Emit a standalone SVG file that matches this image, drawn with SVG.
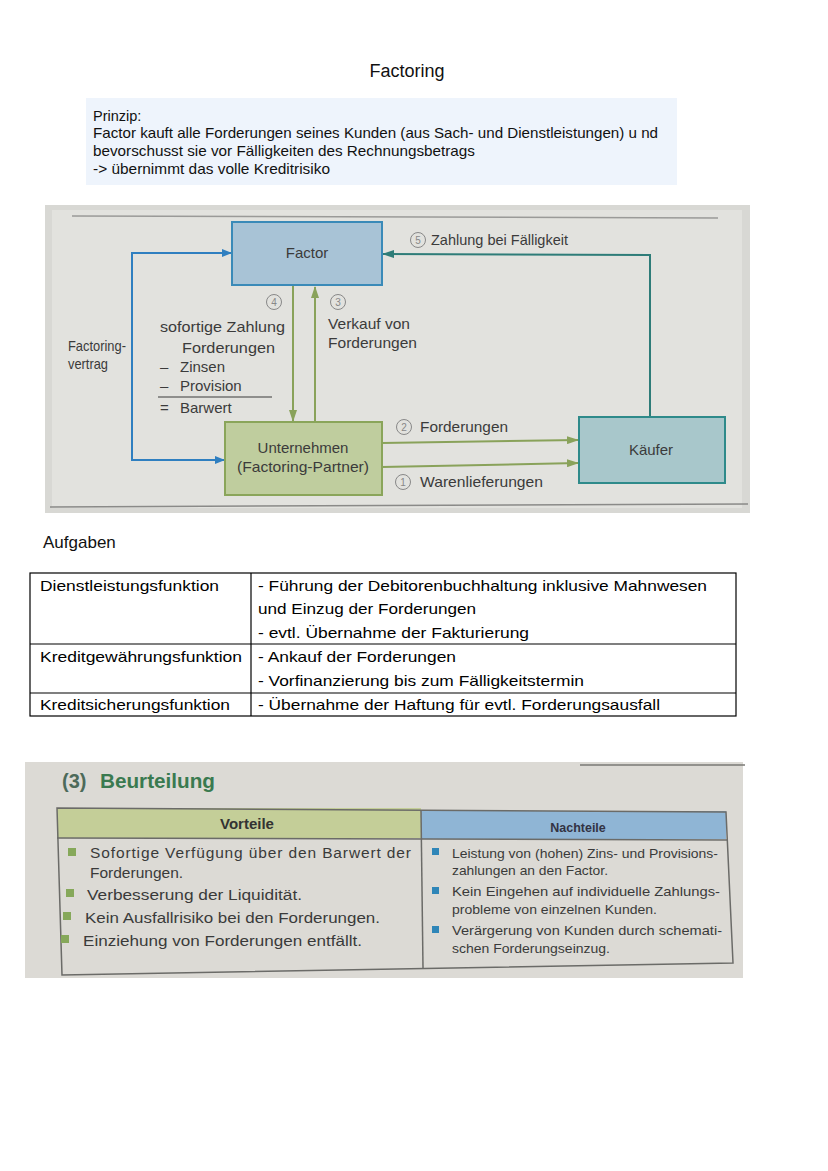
<svg xmlns="http://www.w3.org/2000/svg" width="828" height="1171" viewBox="0 0 828 1171">
<style>
.t{font-family:"Liberation Sans",Arial,sans-serif;fill:#111}
.d{font-family:"Liberation Sans",Arial,sans-serif;fill:#3b3b3b;font-size:15px}
.tb{font-family:"Liberation Sans",Arial,sans-serif;fill:#000;font-size:15px}
.b{font-family:"Liberation Sans",Arial,sans-serif;fill:#3a3a3a}
.circ{fill:none;stroke:#888;stroke-width:1}
.cn{font-family:"Liberation Sans",Arial,sans-serif;fill:#888;font-size:10px;text-anchor:middle}
</style>
<defs>
<marker id="aBlue" markerWidth="10" markerHeight="8" refX="9" refY="4" orient="auto" markerUnits="userSpaceOnUse"><path d="M0,0 L10,4 L0,8 Z" fill="#2f7fc0"/></marker>
<marker id="aGreen" markerWidth="12" markerHeight="8" refX="11" refY="4" orient="auto" markerUnits="userSpaceOnUse"><path d="M0,0 L12,4 L0,8 Z" fill="#89a25a"/></marker>
<marker id="aTeal" markerWidth="12" markerHeight="8" refX="11" refY="4" orient="auto" markerUnits="userSpaceOnUse"><path d="M0,0 L12,4 L0,8 Z" fill="#2e7c78"/></marker>
</defs>
<rect width="828" height="1171" fill="#ffffff"/>
<text class="t" x="407" y="77" font-size="18" text-anchor="middle">Factoring</text>
<rect x="86" y="98" width="591" height="87" fill="#eef4fc"/>
<g class="t" font-size="14.5">
<text x="93" y="121">Prinzip:</text>
<text x="93" y="138" textLength="565" lengthAdjust="spacingAndGlyphs">Factor kauft alle Forderungen seines Kunden (aus Sach- und Dienstleistungen) u nd</text>
<text x="93" y="156" textLength="382" lengthAdjust="spacingAndGlyphs">bevorschusst sie vor Fälligkeiten des Rechnungsbetrags</text>
<text x="93" y="174" textLength="237" lengthAdjust="spacingAndGlyphs">-&gt; übernimmt das volle Kreditrisiko</text>
</g>
<!-- diagram photo -->
<rect x="45" y="205" width="705" height="308" fill="#d8d8d4"/>
<rect x="52" y="210" width="690" height="298" fill="#e2e2de"/>
<line x1="72" y1="216" x2="718" y2="218" stroke="#9a9a98" stroke-width="1.5"/>
<line x1="50" y1="507" x2="748" y2="504" stroke="#8a8a88" stroke-width="1.5"/>
<g id="connectors" fill="none" stroke-width="2">
<path d="M225,460 L132,460 L132,253 L231,253" stroke="#2f7fc0" marker-end="url(#aBlue)"/>
<path d="M132,460 L224,460" stroke="#2f7fc0" marker-end="url(#aBlue)"/>
<path d="M293,286 L293,421" stroke="#89a25a" marker-end="url(#aGreen)"/>
<path d="M315,422 L315,287" stroke="#89a25a" marker-end="url(#aGreen)"/>
<path d="M650,417 L650,255 L383,254" stroke="#2e7c78" marker-end="url(#aTeal)"/>
<path d="M382,443 L578,440" stroke="#89a25a" marker-end="url(#aGreen)"/>
<path d="M382,467 L578,463" stroke="#89a25a" marker-end="url(#aGreen)"/>
</g>
<g id="factor">
<rect x="232" y="222" width="150" height="63" fill="#a8c3d6" stroke="#3a8ab8" stroke-width="2"/>
<text class="d" x="307" y="258" text-anchor="middle">Factor</text>
</g>
<g id="unternehmen">
<rect x="225" y="422" width="157" height="73" fill="#bfcd9e" stroke="#8aa55a" stroke-width="2"/>
<text class="d" x="303" y="453" text-anchor="middle" font-size="16">Unternehmen</text>
<text class="d" x="303" y="472" text-anchor="middle" font-size="16" textLength="132" lengthAdjust="spacingAndGlyphs">(Factoring-Partner)</text>
</g>
<g id="kaeufer">
<rect x="579" y="417" width="146" height="66" fill="#a8c7cb" stroke="#2e8a8a" stroke-width="2"/>
<text class="d" x="651" y="455" text-anchor="middle">Käufer</text>
</g>
<g id="labels">
<text class="d" x="68" y="351" font-size="12.5" textLength="58" lengthAdjust="spacingAndGlyphs">Factoring-</text>
<text class="d" x="68" y="369" font-size="12.5" textLength="40" lengthAdjust="spacingAndGlyphs">vertrag</text>
<circle class="circ" cx="274" cy="302" r="7.5"/><text class="cn" x="274" y="306">4</text>
<circle class="circ" cx="338" cy="302" r="7.5"/><text class="cn" x="338" y="306">3</text>
<text class="d" x="160" y="332" font-size="16" textLength="125" lengthAdjust="spacingAndGlyphs">sofortige Zahlung</text>
<text class="d" x="182" y="353" font-size="16" textLength="93" lengthAdjust="spacingAndGlyphs">Forderungen</text>
<text class="d" x="160" y="372" font-size="16">–</text>
<text class="d" x="180" y="372" font-size="16">Zinsen</text>
<text class="d" x="160" y="391" font-size="16">–</text>
<text class="d" x="180" y="391" font-size="16">Provision</text>
<line x1="158" y1="397" x2="272" y2="397" stroke="#3b3b3b" stroke-width="1.2"/>
<text class="d" x="160" y="413" font-size="16">=</text>
<text class="d" x="180" y="413" font-size="16">Barwert</text>
<text class="d" x="328" y="329" textLength="82" lengthAdjust="spacingAndGlyphs">Verkauf von</text>
<text class="d" x="328" y="348" textLength="89" lengthAdjust="spacingAndGlyphs">Forderungen</text>
<circle class="circ" cx="418" cy="240" r="7.5"/><text class="cn" x="418" y="244">5</text>
<text class="d" x="431" y="245" textLength="137" lengthAdjust="spacingAndGlyphs">Zahlung bei Fälligkeit</text>
<circle class="circ" cx="404" cy="427" r="7.5"/><text class="cn" x="404" y="431">2</text>
<text class="d" x="420" y="432" textLength="88" lengthAdjust="spacingAndGlyphs">Forderungen</text>
<circle class="circ" cx="403" cy="482" r="7.5"/><text class="cn" x="403" y="486">1</text>
<text class="d" x="420" y="487" textLength="123" lengthAdjust="spacingAndGlyphs">Warenlieferungen</text>
</g>
<text class="t" x="43" y="548" font-size="17">Aufgaben</text>
<!-- table -->
<g fill="none" stroke="#000" stroke-width="1.2">
<rect x="30" y="573" width="706" height="143"/>
<line x1="251" y1="573" x2="251" y2="716"/>
<line x1="30" y1="644" x2="736" y2="644"/>
<line x1="30" y1="693" x2="736" y2="693"/>
</g>
<g class="tb">
<text x="40" y="591" textLength="179" lengthAdjust="spacingAndGlyphs">Dienstleistungsfunktion</text>
<text x="258" y="591" textLength="449" lengthAdjust="spacingAndGlyphs">- Führung der Debitorenbuchhaltung inklusive Mahnwesen</text>
<text x="258" y="614" textLength="218" lengthAdjust="spacingAndGlyphs">und Einzug der Forderungen</text>
<text x="258" y="638" textLength="271" lengthAdjust="spacingAndGlyphs">- evtl. Übernahme der Fakturierung</text>
<text x="40" y="662" textLength="202" lengthAdjust="spacingAndGlyphs">Kreditgewährungsfunktion</text>
<text x="258" y="662" textLength="198" lengthAdjust="spacingAndGlyphs">- Ankauf der Forderungen</text>
<text x="258" y="686" textLength="326" lengthAdjust="spacingAndGlyphs">- Vorfinanzierung bis zum Fälligkeitstermin</text>
<text x="40" y="710" textLength="190" lengthAdjust="spacingAndGlyphs">Kreditsicherungsfunktion</text>
<text x="258" y="710" textLength="402" lengthAdjust="spacingAndGlyphs">- Übernahme der Haftung für evtl. Forderungsausfall</text>
</g>
<!-- Beurteilung photo -->
<rect x="25" y="762" width="718" height="216" fill="#dcdad5"/>
<line x1="580" y1="765" x2="745" y2="765" stroke="#7a7874" stroke-width="1.5"/>
<text x="62" y="788" font-family="Liberation Sans,Arial,sans-serif" font-size="20" font-weight="bold" fill="#4d6a5a">(3)</text>
<text x="100" y="788" font-family="Liberation Sans,Arial,sans-serif" font-size="20" font-weight="bold" fill="#3a7a50" textLength="115" lengthAdjust="spacingAndGlyphs">Beurteilung</text>
<rect x="57" y="808" width="364" height="30" fill="#c4ce98"/>
<rect x="421" y="811" width="305" height="28" fill="#8fb5d5"/>
<g fill="none" stroke="#6b6b68" stroke-width="1.5">
<path d="M57,808 L726,812 L733,963 L62,975 Z"/>
<line x1="57" y1="838" x2="727" y2="840"/>
<line x1="421" y1="810" x2="423" y2="968"/>
</g>
<text x="247" y="829" font-family="Liberation Sans,Arial,sans-serif" font-size="15" font-weight="bold" fill="#333" text-anchor="middle">Vorteile</text>
<text x="578" y="832" font-family="Liberation Sans,Arial,sans-serif" font-size="12.5" font-weight="bold" fill="#334" text-anchor="middle">Nachteile</text>
<g fill="#86a85a">
<rect x="68" y="848" width="8" height="8"/>
<rect x="66" y="889" width="8" height="8"/>
<rect x="63" y="912" width="8" height="8"/>
<rect x="61" y="935" width="8" height="8"/>
</g>
<g class="b" font-size="15.5">
<text x="90" y="858" textLength="321" lengthAdjust="spacing">Sofortige Verfügung über den Barwert der</text>
<text x="90" y="878">Forderungen.</text>
<text x="87" y="900" textLength="215" lengthAdjust="spacingAndGlyphs">Verbesserung der Liquidität.</text>
<text x="85" y="923" textLength="295" lengthAdjust="spacingAndGlyphs">Kein Ausfallrisiko bei den Forderungen.</text>
<text x="83" y="946" textLength="279" lengthAdjust="spacingAndGlyphs">Einziehung von Forderungen entfällt.</text>
</g>
<g fill="#2f86b8">
<rect x="432" y="848" width="7" height="7"/>
<rect x="432" y="887" width="7" height="7"/>
<rect x="432" y="926" width="7" height="7"/>
</g>
<g class="b" font-size="13.5">
<text x="452" y="858" textLength="266" lengthAdjust="spacingAndGlyphs">Leistung von (hohen) Zins- und Provisions-</text>
<text x="452" y="875" textLength="156" lengthAdjust="spacingAndGlyphs">zahlungen an den Factor.</text>
<text x="452" y="896" textLength="268" lengthAdjust="spacingAndGlyphs">Kein Eingehen auf individuelle Zahlungs-</text>
<text x="452" y="914" textLength="205" lengthAdjust="spacingAndGlyphs">probleme von einzelnen Kunden.</text>
<text x="452" y="935" textLength="270" lengthAdjust="spacingAndGlyphs">Verärgerung von Kunden durch schemati-</text>
<text x="452" y="953" textLength="158" lengthAdjust="spacingAndGlyphs">schen Forderungseinzug.</text>
</g>
</svg>
